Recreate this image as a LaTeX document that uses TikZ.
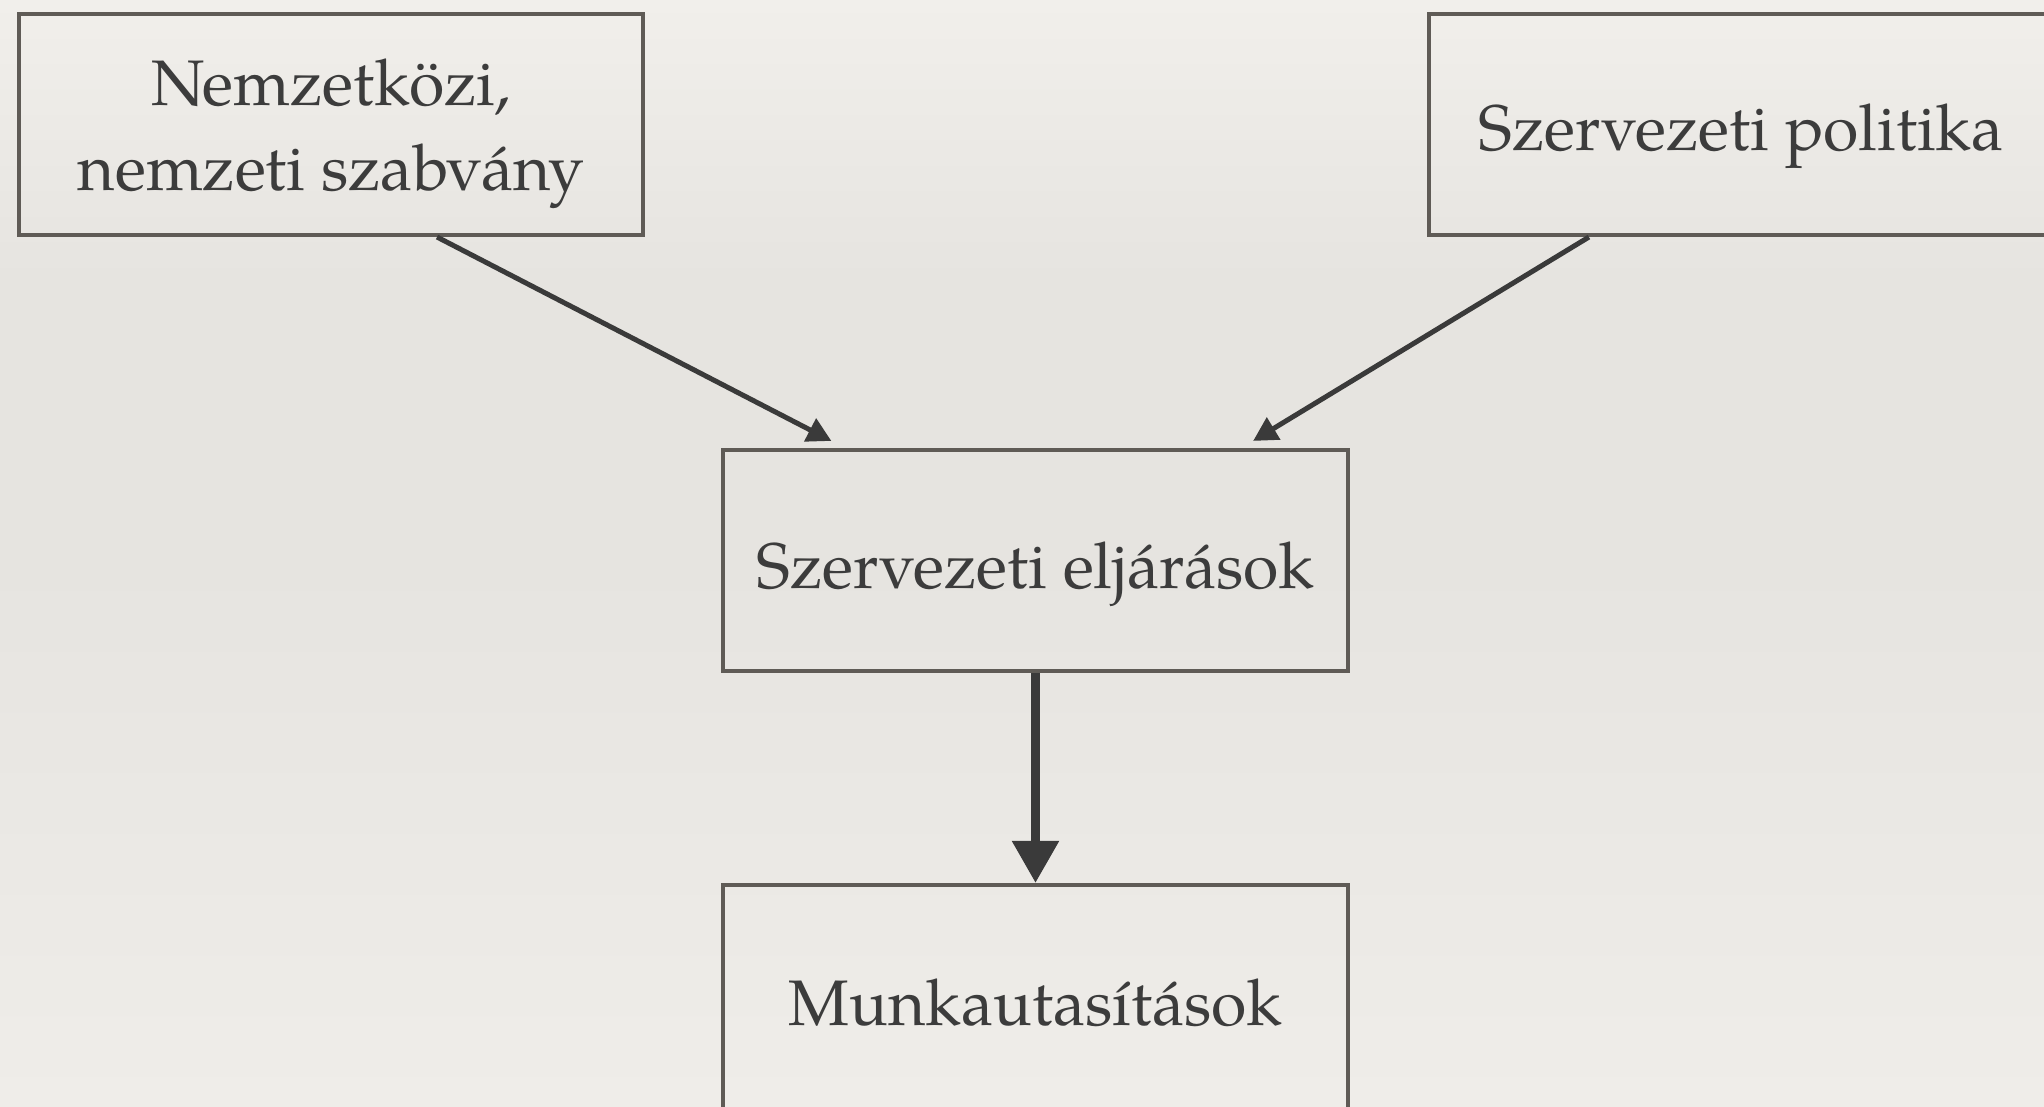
\documentclass[tikz,border=0pt]{standalone}
\usepackage{fontspec}
\setmainfont{texgyrepagella-regular.otf}
\usetikzlibrary{arrows.meta}
\definecolor{bordercol}{HTML}{5F5B56}
\definecolor{textcol}{HTML}{3C3C3C}
\definecolor{arrowcol}{HTML}{3A3A3A}
\definecolor{bgtop}{HTML}{F1EFEB}
\definecolor{bgmid}{HTML}{E6E4E0}
\definecolor{bgbot}{HTML}{EFEDE9}
\tikzset{
  box/.style={draw=bordercol, line width=0.04cm, minimum width=6.24cm, minimum height=2.21cm,
    inner sep=0pt, align=center, text=textcol, text depth=0pt,
    font=\fontsize{18.3}{24.1}\selectfont},
  thinarrow/.style={draw=arrowcol, line width=0.05cm, -{Triangle[length=0.24cm, width=0.25cm]}},
  thickarrow/.style={draw=arrowcol, line width=0.087cm, -{Triangle[length=0.42cm, width=0.45cm]}}
}
\begin{document}
\begin{tikzpicture}[x=0.01cm, y=-0.01cm]
\useasboundingbox (0,0) rectangle (2044,1107);
\clip (0,0) rectangle (2044,1107);
\shade[top color=bgtop, bottom color=bgmid, middle color=bgmid, shading angle=0] (0,0) rectangle (2044,560);
\shade[top color=bgmid, bottom color=bgbot] (0,560) rectangle (2044,1107);
\node[box] (b1) at (331,124.5) {Nemzetközi,\\nemzeti szabvány};
\node[box, text height=0.51cm] (b2) at (1741,124.5) {Szervezeti politika};
\node[box, text height=0.556cm] (b3) at (1035.5,560.5) {Szervezeti eljárások};
\node[box, minimum height=2.29cm, text height=0.52cm] (b4) at (1035.5,999.5) {Munkautasítások};
\draw[thinarrow] ([xshift=1.06cm]b1.south) -- ([xshift=-2.04cm, yshift=0.07cm]b3.north);
\draw[thinarrow] ([xshift=-1.52cm]b2.south) -- ([xshift=2.175cm, yshift=0.07cm]b3.north);
\draw[thickarrow] (b3.south) -- (b4.north);
\end{tikzpicture}
\end{document}
